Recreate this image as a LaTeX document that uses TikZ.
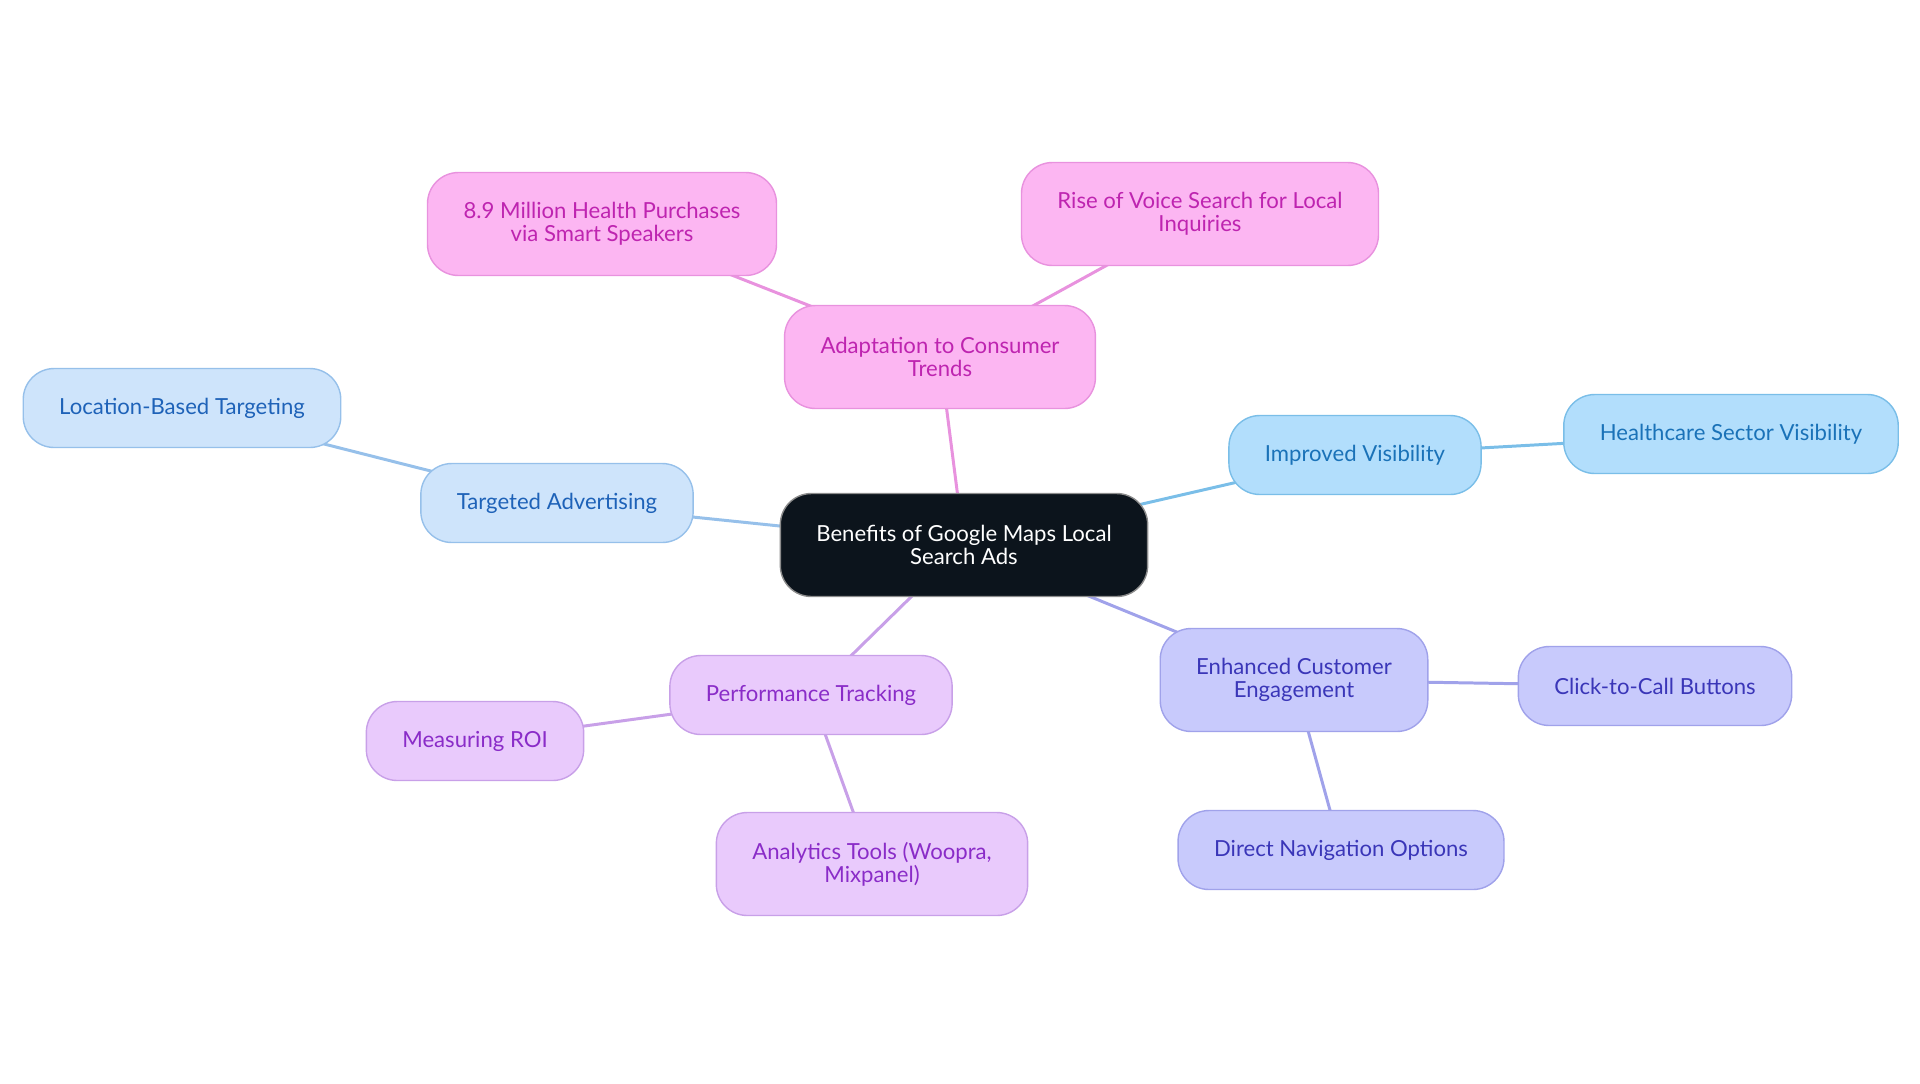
\documentclass[tikz,border=0pt]{standalone}
\usepackage{fontspec}
\setmainfont{Lato}
\usetikzlibrary{backgrounds}
\definecolor{cdark}{RGB}{12,20,28}
\definecolor{pinkfill}{RGB}{252,182,242}
\definecolor{pinkline}{RGB}{232,146,222}
\definecolor{pinktext}{RGB}{190,36,176}
\definecolor{bluefill}{RGB}{206,228,251}
\definecolor{blueline}{RGB}{150,192,234}
\definecolor{bluetext}{RGB}{30,98,184}
\definecolor{skyfill}{RGB}{178,222,252}
\definecolor{skyline}{RGB}{122,190,232}
\definecolor{skytext}{RGB}{26,114,184}
\definecolor{lavfill}{RGB}{200,202,252}
\definecolor{lavline}{RGB}{160,162,234}
\definecolor{lavtext}{RGB}{58,54,184}
\definecolor{purpfill}{RGB}{233,202,252}
\definecolor{purpline}{RGB}{200,160,232}
\definecolor{purptext}{RGB}{138,44,200}
\tikzset{mapbox/.style={rounded corners=0.62cm,line width=0.8pt,inner xsep=0.72cm,
           inner ysep=0.3cm,minimum height=1.58cm,align=center,
           font=\fontsize{12.6}{13.2}\selectfont},
         twoline/.style={minimum height=2.06cm}}
\tikzset{rootbox/.style={mapbox,fill=cdark,draw=black!45,text=white},
         pinkbox/.style={mapbox,fill=pinkfill,draw=pinkline,text=pinktext},
         bluebox/.style={mapbox,fill=bluefill,draw=blueline,text=bluetext},
         skybox/.style={mapbox,fill=skyfill,draw=skyline,text=skytext},
         lavbox/.style={mapbox,fill=lavfill,draw=lavline,text=lavtext},
         purpbox/.style={mapbox,fill=purpfill,draw=purpline,text=purptext},
         link/.style={line width=1.7pt}}

\begin{document}
\begin{tikzpicture}[x=0.02cm,y=-0.02cm]
    \useasboundingbox (0,0) rectangle (1920,1083);
    \node[rootbox,twoline] (root) at (964,545) {Benefits of Google Maps Local\\Search Ads};
    % consumer trends
    \node[pinkbox,twoline] (trends) at (940,357) {Adaptation to Consumer\\Trends};
    \node[pinkbox,twoline] (health) at (602,224) {8.9 Million Health Purchases\\via Smart Speakers};
    \node[pinkbox,twoline] (voice)  at (1200,214) {Rise of Voice Search for Local\\Inquiries};
    % targeting
    \node[bluebox] (target)   at (557,503) {Targeted Advertising};
    \node[bluebox] (location) at (182,408) {Location-Based Targeting};
    % visibility
    \node[skybox] (visible) at (1355,455) {Improved Visibility};
    \node[skybox] (sector)  at (1731,434) {Healthcare Sector Visibility};
    % engagement
    \node[lavbox,twoline] (engage) at (1294,680) {Enhanced Customer\\Engagement};
    \node[lavbox] (call)   at (1655,686) {Click-to-Call Buttons};
    \node[lavbox] (navig)  at (1341,850) {Direct Navigation Options};
    % tracking
    \node[purpbox] (track) at (811,695) {Performance Tracking};
    \node[purpbox] (roi)   at (475,741) {Measuring ROI};
    \node[purpbox,twoline] (tools) at (872,864) {Analytics Tools (Woopra,\\Mixpanel)};
    \begin{scope}[on background layer]
      \draw[link,pinkline] (root.center) -- (trends.center);
      \draw[link,pinkline] (trends.center) -- (health.center);
      \draw[link,pinkline] (trends.center) -- (voice.center);
      \draw[link,blueline] (root.center) -- (target.center);
      \draw[link,blueline] (target.center) -- (location.center);
      \draw[link,skyline] (root.center) -- (visible.center);
      \draw[link,skyline] (visible.center) -- (sector.center);
      \draw[link,lavline] (root.center) -- (engage.center);
      \draw[link,lavline] (engage.center) -- (call.center);
      \draw[link,lavline] (engage.center) -- (navig.center);
      \draw[link,purpline] (root.center) -- (track.center);
      \draw[link,purpline] (track.center) -- (roi.center);
      \draw[link,purpline] (track.center) -- (tools.center);
    \end{scope}
\end{tikzpicture}
\end{document}
